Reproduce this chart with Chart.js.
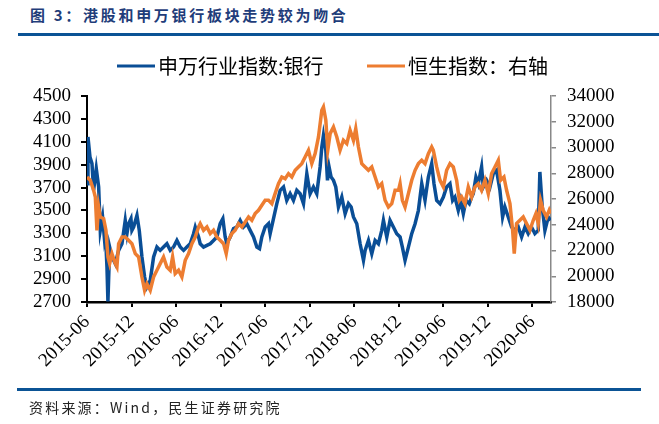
<!DOCTYPE html>
<html>
<head>
<meta charset="utf-8">
<script src="https://cdn.jsdelivr.net/npm/chart.js@4.4.1/dist/chart.umd.min.js"></script>
<style>
  html, body { margin: 0; padding: 0; background: #fff; }
  body { width: 659px; height: 424px; position: relative; overflow: hidden; }
  #title { position: absolute; left: 30px; top: 5px; font-family: "Noto Sans CJK SC", sans-serif; font-weight: 700; font-size: 15px; letter-spacing: 2.7px; color: #1F3D7A; line-height: 20px; white-space: nowrap; }
  #topRule { position: absolute; left: 18px; top: 33px; width: 641px; height: 3px; background: #0B5395; }
  #bottomRule { position: absolute; left: 17px; top: 388px; width: 624px; height: 3px; background: #0B5395; }
  #source { position: absolute; left: 29px; top: 397px; font-family: "Noto Sans CJK SC", sans-serif; font-size: 14px; letter-spacing: 2.2px; color: #222; line-height: 20px; white-space: nowrap; }
  #wrap { position: absolute; left: 0; top: 0; width: 659px; height: 424px; }
</style>
</head>
<body>
<div id="title">图 3：港股和申万银行板块走势较为吻合</div>
<div id="topRule"></div>
<div id="wrap"><canvas id="c" width="659" height="424"></canvas></div>
<div id="bottomRule"></div>
<div id="source">资料来源：Wind，民生证券研究院</div>
<script>
// x values: months elapsed since 2015-06
const START_YEAR = 2015, START_MONTH = 6;
const seriesNames = ['申万行业指数:银行', '恒生指数：右轴'];

const bankMonths = [0,0.13,0.40,0.67,0.89,1.25,1.57,1.79,2.10,2.33,2.46,2.69,2.82,3.05,3.36,3.81,4.26,4.71,5.15,5.38,5.60,5.92,6.05,6.28,6.73,7.04,7.40,7.76,8.07,8.52,8.97,9.42,9.86,10.31,10.76,11.21,11.66,12.11,12.56,13.01,13.45,13.90,14.35,14.58,15.03,
15.25,15.70,16.15,16.60,17.04,17.49,17.94,18.30,18.61,18.84,19.29,19.74,20.18,20.63,21.08,21.53,21.98,22.43,22.88,23.24,23.55,24.00,24.45,24.67,25.12,25.57,26.02,26.47,26.91,27.36,27.81,28.26,28.71,29.16,29.61,30.05,30.50,30.95,31.40,
31.63,31.85,32.17,32.39,32.61,32.88,33.20,33.51,33.87,34.32,34.77,35.22,35.58,35.89,36.34,36.79,37.24,37.46,37.91,38.36,38.81,39.25,39.70,39.93,40.38,40.82,41.27,41.72,42.17,42.48,42.84,43.29,43.74,44.19,44.64,45.09,45.53,45.98,46.43,
46.74,47.10,47.55,48.00,48.44,48.89,49.25,49.56,50.01,50.33,50.69,51.05,51.49,51.81,52.03,52.39,52.71,53.15,53.38,53.83,54.28,54.72,55.17,55.62,55.98,56.29,56.74,57.19,57.64,58.09,58.54,58.99,59.43,59.88,60.33,60.78,61.00,61.32,61.68,62.13,62.44];
const bankValues = [3734,4142,3967,3909,3676,3865,3705,3326,3442,3268,3326,3005,2705,3180,3093,3035,3151,3209,3413,3297,3384,3428,3326,3355,3457,3326,3093,2918,2831,2889,3093,3180,3151,3180,3209,3151,3180,3238,3180,3151,3180,3209,3297,3355,3268,
3209,3180,3195,3209,3238,3268,3384,3428,3268,3209,3268,3341,3355,3413,3355,3384,3326,3268,3180,3166,3268,3355,3384,3297,3428,3559,3676,3705,3588,3646,3588,3676,3646,3559,3821,3646,3705,3646,3880,
4054,4156,4025,3763,3880,3792,3763,3705,3530,3617,3472,3559,3530,3443,3384,3209,3064,3151,3238,3122,3238,3209,3326,3413,3268,3413,3355,3297,3268,3180,3064,3180,3297,3384,3501,3734,3588,3792,3909,
3734,3588,3559,3617,3705,3734,3588,3617,3501,3588,3472,3588,3559,3617,3647,3792,3734,3880,3705,3763,3705,3821,3850,3676,3443,3530,3443,3355,3326,3355,3268,3355,3297,3355,3297,3326,3836,3530,3326,3443,3413];

const hsiMonths = [0,0.44,0.89,1.12,1.34,1.57,1.79,2.24,2.55,2.82,3.05,3.36,3.81,4.03,4.26,4.71,5.15,5.60,6.05,6.50,6.95,7.40,7.76,8.07,8.52,8.97,9.42,9.86,10.31,10.76,11.21,11.53,11.88,12.33,12.78,13.23,13.68,14.13,14.58,15.03,
15.25,15.70,16.15,16.60,17.04,17.49,17.94,18.39,18.75,19.06,19.51,19.96,20.41,20.86,21.31,21.76,22.20,22.65,23.10,23.55,24.00,24.45,24.90,25.34,25.79,26.24,26.69,27.14,27.59,28.04,28.48,28.93,29.38,29.83,30.28,30.73,31.18,
31.63,31.85,32.17,32.43,32.75,33.20,33.65,34.09,34.54,34.99,35.44,35.89,36.20,36.56,37.01,37.46,37.91,38.36,38.81,39.25,39.70,40.15,40.60,41.05,41.50,41.95,42.17,42.48,42.84,43.29,43.74,44.19,44.64,45.09,45.53,45.98,46.43,
46.65,47.10,47.55,48.00,48.44,48.89,49.34,49.79,50.15,50.46,50.91,51.36,51.81,52.26,52.71,53.15,53.60,54.05,54.50,54.95,55.40,55.71,56.16,56.52,56.97,57.33,57.55,57.86,58.31,58.76,59.21,59.66,60.11,60.47,60.78,61.09,61.45,61.90,62.26,62.44];
const hsiValues = [27711,27452,26676,26158,23569,25381,24605,24475,23569,21498,20980,21756,20980,20721,22533,23051,23051,22792,22533,21756,21498,19944,18909,19425,18909,19944,20462,20980,21498,20721,20462,21498,20203,20462,19944,21239,21756,22533,23051,23828,
24087,23569,23828,23310,23569,23051,22792,22533,21756,22792,23310,23569,24087,23828,24216,24605,24346,24864,25123,25511,25899,25899,25640,26417,27194,27711,27582,27970,27711,28229,28488,28747,29265,29782,28747,29524,30818,
32889,33148,32113,29782,31077,31595,30818,29782,30559,30300,31336,30559,31465,30041,28747,28488,28229,28488,27711,26935,27194,25899,25381,25640,26676,26676,27194,25899,25381,26417,27452,28229,28747,29006,28747,29524,30041,
29782,28488,27452,26935,28229,28747,28488,27452,25899,26158,25640,26935,26158,26935,27194,26676,27452,26417,27970,28488,29006,27452,27711,26676,25640,23569,21756,24087,24346,24605,24087,23569,24346,24864,24087,25899,25123,24605,25123,24864];

const leftTicks = { min: 2700, max: 4500, step: 200 };
const rightTicks = { min: 18000, max: 34000, step: 2000 };
const xTicks = { min: 0, max: 62.5, step: 6 };

const BLUE = '#0A4E96', ORANGE = '#ED7D31';
const tickFont = { family: '"Liberation Serif", "Times New Roman", serif', size: 19 };

function toPoints(xs, ys) { return xs.map((x, i) => ({ x: x, y: ys[i] })); }
function monthLabel(v) {
  const total = START_MONTH - 1 + Math.round(v);
  const y = START_YEAR + Math.floor(total / 12);
  const m = (total % 12) + 1;
  return y + '-' + (m < 10 ? '0' + m : m);
}

const legendPlugin = {
  id: 'customLegend',
  afterDraw(chart) {
    const ctx = chart.ctx;
    const ds = chart.data.datasets;
    const items = [{ x: 117, ds: ds[0] }, { x: 367, ds: ds[1] }];
    ctx.save();
    ctx.font = '20px "Noto Sans CJK SC", sans-serif';
    ctx.textBaseline = 'middle';
    items.forEach(it => {
      ctx.fillStyle = it.ds.borderColor;
      ctx.fillRect(it.x, 64.5, 38, 3);
      ctx.fillStyle = '#000';
      ctx.fillText(it.ds.label, it.x + 41, 66);
    });
    ctx.restore();
  }
};

new Chart(document.getElementById('c'), {
  type: 'line',
  data: {
    datasets: [
      { label: seriesNames[0], data: toPoints(bankMonths, bankValues), yAxisID: 'y', borderColor: BLUE, backgroundColor: BLUE, borderWidth: 3.5, pointRadius: 0, tension: 0, order: 1 },
      { label: seriesNames[1], data: toPoints(hsiMonths, hsiValues), yAxisID: 'y2', borderColor: ORANGE, backgroundColor: ORANGE, borderWidth: 3.5, pointRadius: 0, tension: 0, order: 0 }
    ]
  },
  options: {
    responsive: false,
    animation: false,
    events: [],
    layout: { padding: { left: 0, right: 0, top: 96, bottom: 0 } },
    plugins: { legend: { display: false }, tooltip: { enabled: false }, title: { display: false } },
    scales: {
      x: {
        type: 'linear', min: xTicks.min, max: xTicks.max,
        afterFit(s) { s.height = 122; },
        border: { display: true, color: '#000', width: 2.5 },
        grid: { drawOnChartArea: false, drawTicks: true, tickLength: 5, color: '#000', lineWidth: 2 },
        ticks: { stepSize: xTicks.step, includeBounds: false, autoSkip: false, maxRotation: 45, minRotation: 45, padding: 4, color: '#000', font: tickFont, callback: v => monthLabel(v) }
      },
      y: {
        type: 'linear', position: 'left', min: leftTicks.min, max: leftTicks.max,
        afterFit(s) { s.width = 87; },
        border: { display: true, color: '#000', width: 2 },
        grid: { drawOnChartArea: false, drawTicks: true, tickLength: 6, color: '#000', lineWidth: 2 },
        ticks: { stepSize: leftTicks.step, autoSkip: false, padding: 10, color: '#000', font: tickFont, callback: v => String(v) }
      },
      y2: {
        type: 'linear', position: 'right', min: rightTicks.min, max: rightTicks.max,
        afterFit(s) { s.width = 108; },
        border: { display: true, color: '#888', width: 1.5 },
        grid: { drawOnChartArea: false, drawTicks: true, tickLength: 5, color: '#888', lineWidth: 1.5 },
        ticks: { stepSize: rightTicks.step, autoSkip: false, padding: 11, color: '#000', font: tickFont, callback: v => String(v) }
      }
    }
  },
  plugins: [legendPlugin]
});
</script>
</body>
</html>
